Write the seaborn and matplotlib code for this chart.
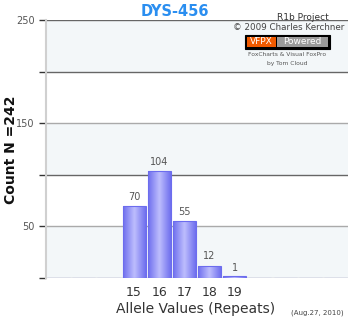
import numpy as np
import pandas as pd
import seaborn as sns
import matplotlib
matplotlib.use("Agg")
import matplotlib.pyplot as plt
from matplotlib.patches import Rectangle

# ---- data ----
alleles = ["12", "13", "14", "15", "16", "17", "18", "19", "20", "21", "22", "23"]
counts = [0, 0, 0, 70, 104, 55, 12, 1, 0, 0, 0, 0]
y_ticks = [0, 50, 100, 150, 200, 250]
y_tick_labels = ["", "50", "", "150", "", "250"]
title = "DYS-456"
y_label = "Count N =242"
x_label = "Allele Values (Repeats)"
date_note = "(Aug.27, 2010)"

sns.set_theme(style="white")
plt.rcParams['font.family'] = ['DejaVu Sans']

fig = plt.figure(figsize=(3.5, 3.2), dpi=100)
ax = fig.add_axes([46/350, 1-278/320, 302/350, 258/320])

df = pd.DataFrame({"allele": alleles, "count": counts})
sns.barplot(data=df, x="allele", y="count", ax=ax, color="#8a8af4",
            width=0.91, saturation=1, edgecolor="#6c6cee", linewidth=0.8, zorder=3)
bars = list(ax.containers[0])

ax.set_ylim(0, 250)
ax.set_xlim(-0.5, len(alleles) - 0.5)

# gradient on bars
grad = np.linspace(0, 1, 64)
grad = 1 - np.abs(grad - 0.5) * 2  # 0 at edges, 1 center
cmap = matplotlib.colors.LinearSegmentedColormap.from_list("g", ["#6f6fee", "#bcbcfd"])
for p in bars:
    h = p.get_height()
    if h <= 0:
        continue
    x0, y0 = p.get_x(), p.get_y()
    w = p.get_width()
    if h < 2:
        p.set_height(2)
        h = 2
    im = ax.imshow(grad[np.newaxis, :], cmap=cmap, aspect="auto",
                   extent=(x0, x0 + w, y0, y0 + h), zorder=3.5,
                   interpolation="bilinear")
    im.set_clip_path(p)
    p.set_zorder(4)
    p.set_facecolor("none")

# alternating bands
for i, lo in enumerate(range(0, 250, 50)):
    if i % 2 == 0:
        ax.axhspan(lo, lo + 50, color="#f3f7f9", zorder=0, lw=0)
for v in y_ticks:
    c = "#666666" if v in (100, 200, 250) else "#aaaaaa"
    ax.axhline(v, color=c, lw=1.0, zorder=1)

ax.set_xlim(-0.5, len(alleles) - 0.5)
ax.set_ylim(0, 250)

# value labels
for i, v in enumerate(counts):
    if v > 0:
        ax.text(i, v + 4, str(v), ha="center", va="bottom", fontsize=7,
                color="#555555", zorder=5)

# ticks
ax.set_yticks(y_ticks)
ax.set_yticklabels(y_tick_labels, fontsize=7, color="#555555")
ax.tick_params(axis="y", length=5, width=1, color="#333333", pad=3, left=True)
xt = [i for i, v in enumerate(counts) if v > 0]
ax.set_xticks(xt)
ax.set_xticklabels([alleles[i] for i in xt], fontsize=9, color="#333333")
ax.tick_params(axis="x", length=0, pad=6)

for s in ["top", "right", "bottom"]:
    ax.spines[s].set_visible(False)
ax.spines["left"].set_color("#d0d0d0")
ax.spines["left"].set_linewidth(1.5)
ax.spines["left"].set_zorder(2)

ax.set_xlabel("")
ax.set_ylabel("")

# titles / labels
fig.text(175/350, 1-11/320, title, ha="center", va="center", fontsize=10.5,
         fontweight="bold", color="#2a8ef0")
fig.text(11/350, 1-150/320, y_label, ha="center", va="center", rotation=90,
         fontsize=10, fontweight="bold", color="#111111")
fig.text(196/350, 1-309/320, x_label, ha="center", va="center", fontsize=10,
         color="#333333")
fig.text(317/350, 1-313/320, date_note, ha="center", va="center", fontsize=5,
         color="#444444")

# watermark
fig.text(303/350, 1-17/320, "R1b Project", ha="center", va="center", fontsize=6.5,
         color="#333333")
fig.text(289/350, 1-28/320, "\u00a9 2009 Charles Kerchner", ha="center", va="center",
         fontsize=6.3, color="#444444")
fig.patches.append(Rectangle((245/350, 1-49/320), 85/350, 14/320, transform=fig.transFigure,
                             facecolor="black", edgecolor="black", lw=0.8, zorder=5))
fig.patches.append(Rectangle((247/350, 1-47/320), 29/350, 10/320, transform=fig.transFigure,
                             facecolor="#f05a00", edgecolor="none", zorder=6))
fig.patches.append(Rectangle((277/350, 1-47/320), 51/350, 10/320, transform=fig.transFigure,
                             facecolor="#9a9a9a", edgecolor="none", zorder=6))
fig.text(261.5/350, 1-42/320, "VFPX", ha="center", va="center", fontsize=6.5,
         color="white", zorder=7)
fig.text(302.5/350, 1-42/320, "Powered", ha="center", va="center", fontsize=6.5,
         color="white", zorder=7)
fig.text(287/350, 1-55/320, "FoxCharts & Visual FoxPro", ha="center", va="center",
         fontsize=4.3, color="#555555")
fig.text(287/350, 1-63/320, "by Tom Cloud", ha="center", va="center",
         fontsize=4.3, color="#555555")

fig.savefig("out.png", dpi=100, facecolor="white")
